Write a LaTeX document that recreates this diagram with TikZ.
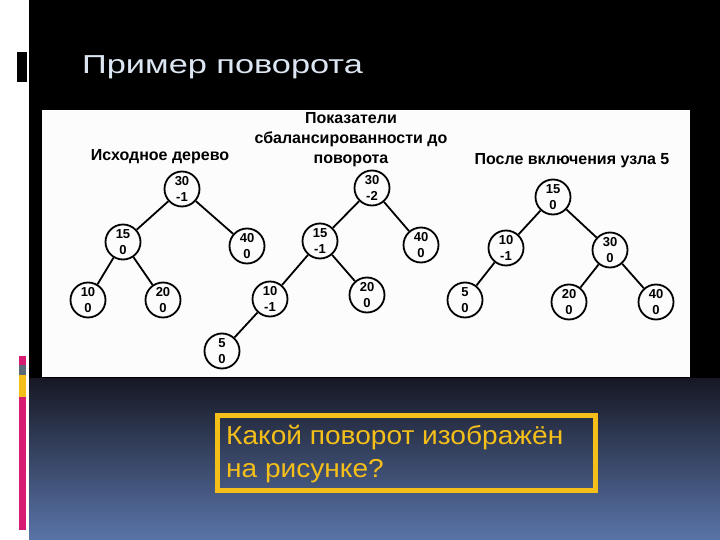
\documentclass[tikz,border=0pt]{standalone}
\usepackage{fontspec}
\setmainfont{Liberation Sans}
\definecolor{titlec}{HTML}{DCE6F2}
\definecolor{goldc}{HTML}{F5BF19}
\definecolor{magc}{HTML}{D81B73}
\definecolor{grayc}{HTML}{5A6A78}
\definecolor{bartop}{HTML}{161824}
\definecolor{barbot}{HTML}{5A74A8}
\tikzset{
  tn/.style={circle, draw=black, line width=1.8pt, minimum size=35pt, inner sep=0pt,
    font=\fontsize{13}{15.5}\selectfont\bfseries, align=center},
  edge/.style={line width=1.8pt, black},
  captxt/.style={font=\fontsize{16}{20}\selectfont\bfseries, align=center, inner sep=0pt}
}
\begin{document}
\begin{tikzpicture}[x=1pt,y=-1pt]
\useasboundingbox (0,0) rectangle (720,540);
% backgrounds
\fill[white] (0,0) rectangle (720,540);
\fill[black] (29,0) rectangle (720,378);
\shade[top color=bartop, bottom color=barbot] (29,378) rectangle (720,540);
% left decorations
\fill[black] (17,52) rectangle (27,82);
\fill[magc] (19,356) rectangle (26,365);
\fill[grayc] (19,365) rectangle (26,375);
\fill[goldc] (19,375) rectangle (26,397);
\fill[magc] (19,397) rectangle (26,530);
% title
\node[anchor=base west, inner sep=0pt, text=titlec, font=\fontsize{26}{30}\selectfont] (title) at (82,74) {\scalebox{1.32}[1]{Пример поворота}};
% white picture
\fill[white!99!black] (42,110) rectangle (690,377);
% captions
\node[captxt] (c1) at (160,157) {Исходное дерево};
\node[captxt] (c2) at (351,140) {Показатели\\сбалансированности до\\поворота};
\node[captxt] (c3) at (572,161) {После включения узла 5};
% tree 1
\node[tn] (a30) at (182,189) {30\\-1};
\node[tn] (a15) at (123,242) {15\\0};
\node[tn] (a40) at (247,246) {40\\0};
\node[tn] (a10) at (88,300) {10\\0};
\node[tn] (a20) at (163,300) {20\\0};
\draw[edge] (a30) -- (a15);
\draw[edge] (a30) -- (a40);
\draw[edge] (a15) -- (a10);
\draw[edge] (a15) -- (a20);
% tree 2
\node[tn] (b30) at (372,188) {30\\-2};
\node[tn] (b15) at (320,241) {15\\-1};
\node[tn] (b40) at (421,245) {40\\0};
\node[tn] (b10) at (270,299) {10\\-1};
\node[tn] (b20) at (367,295) {20\\0};
\node[tn] (b5) at (222,351) {5\\0};
\draw[edge] (b30) -- (b15);
\draw[edge] (b30) -- (b40);
\draw[edge] (b15) -- (b10);
\draw[edge] (b15) -- (b20);
\draw[edge] (b10) -- (b5);
% tree 3
\node[tn] (c15) at (553,197) {15\\0};
\node[tn] (c10) at (506,248) {10\\-1};
\node[tn] (c30) at (610,250) {30\\0};
\node[tn] (c5) at (465,300) {5\\0};
\node[tn] (c20) at (569,302) {20\\0};
\node[tn] (c40) at (656,302) {40\\0};
\draw[edge] (c15) -- (c10);
\draw[edge] (c15) -- (c30);
\draw[edge] (c10) -- (c5);
\draw[edge] (c30) -- (c20);
\draw[edge] (c30) -- (c40);
% question box
\draw[goldc, line width=5pt] (217.5,415.5) rectangle (595.5,490.5);
\node[anchor=north west, inner sep=0pt, text=goldc, font=\fontsize{26}{33}\selectfont, align=left] (q) at (226,425) {\scalebox{1.08}[1]{Какой поворот изображён}\\\scalebox{1.08}[1]{на рисунке?}};
\end{tikzpicture}
\end{document}
